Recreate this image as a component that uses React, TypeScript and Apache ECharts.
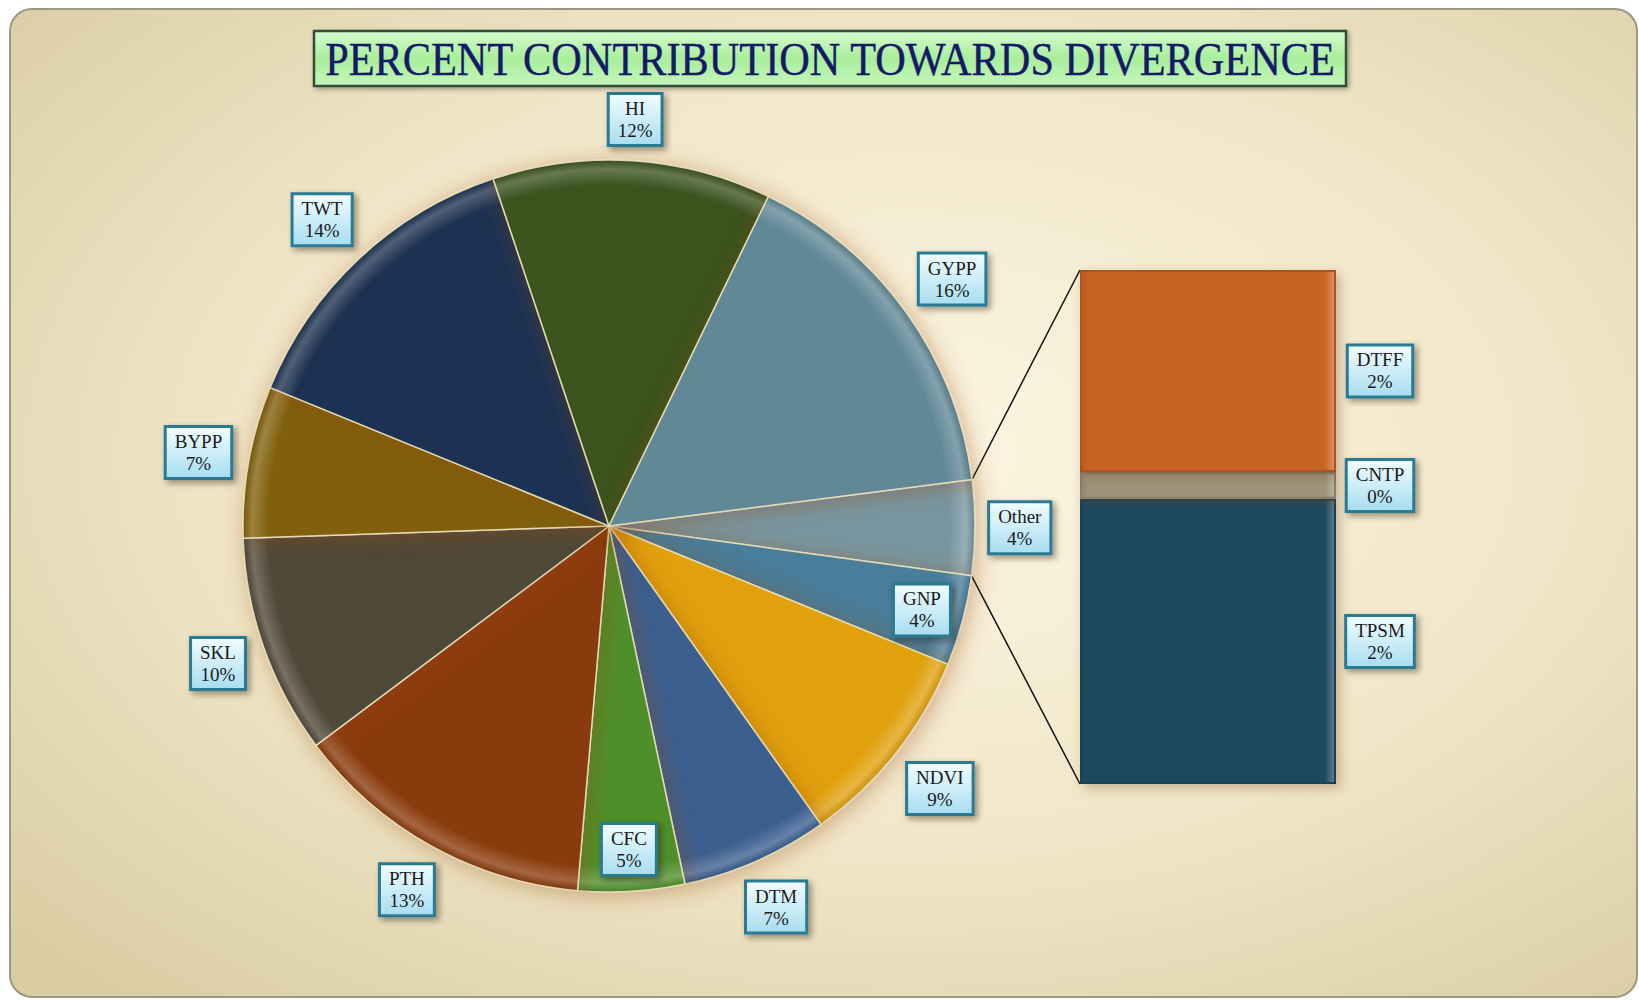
import React, { useEffect, useRef } from "react";
import * as echarts from "echarts";

// ---------- data ----------
const titleText = "PERCENT CONTRIBUTION TOWARDS DIVERGENCE";
const otherName = "Other";
// clockwise, starting after "Other"
const pieNames = ["GNP", "NDVI", "DTM", "CFC", "PTH", "SKL", "BYPP", "TWT", "HI", "GYPP"];
const pieValues = [4.0, 9.0, 6.5, 4.7, 13.4, 9.7, 6.7, 13.7, 12.3, 15.8];
// breakdown of "Other" (bottom to top in the stacked bar)
const barNames = ["TPSM", "CNTP", "DTFF"];
const barValues = [2.33, 0.22, 1.65];

// ---------- styles ----------
const pieColors: Record<string, string> = {
  Other: "#7896a0",
  GNP: "#4a7d99",
  NDVI: "#e0a10e",
  DTM: "#3b5f8f",
  CFC: "#4f8f2c",
  PTH: "#8a3b0c",
  SKL: "#4f4839",
  BYPP: "#80600a",
  TWT: "#1f3352",
  HI: "#3b531f",
  GYPP: "#608896",
};
const barColors: Record<string, string> = {
  TPSM: "#1f4a61",
  CNTP: "#9d937a",
  DTFF: "#c96424",
};
const insideLabels = ["CFC", "GNP"];

const W = 1639;
const H = 1000;
const CX = 609;
const CY = 526;
const R = 366;
const START = 7.3;
const GRID = { left: 1080, top: 270, width: 256, height: 514 };
const FONT = "'Liberation Serif', 'DejaVu Serif', serif";

const labelBox = {
  fontFamily: FONT,
  fontSize: 19,
  lineHeight: 22,
  color: "#1a1a1a",
  align: "center" as const,
  padding: [3, 8, 2, 8],
  borderColor: "#2c7a93",
  borderWidth: 3,
  backgroundColor: {
    type: "linear",
    x: 0, y: 0, x2: 0, y2: 1,
    colorStops: [
      { offset: 0, color: "#f0fcff" },
      { offset: 1, color: "#a9def0" },
    ],
  },
  shadowColor: "rgba(40,30,10,0.45)",
  shadowBlur: 6,
  shadowOffsetX: 3,
  shadowOffsetY: 3,
};

function lighten(hex: string, amt: number) {
  const n = parseInt(hex.slice(1), 16);
  const r = (n >> 16) & 255, g = (n >> 8) & 255, b = n & 255;
  const f = (c: number) => Math.round(c + (255 - c) * amt);
  return `rgb(${f(r)},${f(g)},${f(b)})`;
}
function darken(hex: string, amt: number) {
  const n = parseInt(hex.slice(1), 16);
  const r = (n >> 16) & 255, g = (n >> 8) & 255, b = n & 255;
  const f = (c: number) => Math.round(c * (1 - amt));
  return `rgb(${f(r)},${f(g)},${f(b)})`;
}

export default function App() {
  const ref = useRef<HTMLDivElement>(null);

  useEffect(() => {
    if (!ref.current) return;
    const chart = echarts.init(ref.current, undefined, { renderer: "svg" });

    const otherValue = barValues.reduce((a, b) => a + b, 0);
    const allNames = [otherName, ...pieNames];
    const allValues = [otherValue, ...pieValues];
    const total = allValues.reduce((a, b) => a + b, 0);

    const otherSpan = (otherValue / total) * 360;
    const a0 = (START * Math.PI) / 180;
    const a1 = ((START - otherSpan) * Math.PI) / 180;
    const p0 = [CX + R * Math.cos(a0), CY - R * Math.sin(a0)];
    const p1 = [CX + R * Math.cos(a1), CY - R * Math.sin(a1)];

    const pieData = allNames.map((name, i) => ({
      name,
      value: allValues[i],
      itemStyle: {
        color: {
          type: "radial",
          x: CX, y: CY, r: R,
          global: true,
          colorStops: [
            { offset: 0, color: pieColors[name] },
            { offset: 0.93, color: pieColors[name] },
            { offset: 0.975, color: lighten(pieColors[name], 0.22) },
            { offset: 1, color: darken(pieColors[name], 0.1) },
          ],
        },
      },
    }));

    const barSeries = barNames.map((name, i) => ({
      type: "bar",
      name,
      stack: "other",
      barWidth: "100%",
      xAxisIndex: 0,
      yAxisIndex: 0,
      data: [barValues[i]],
      itemStyle: {
        color: {
          type: "linear",
          x: 0, y: 0, x2: 1, y2: 0,
          colorStops: [
            { offset: 0, color: darken(barColors[name], 0.08) },
            { offset: 0.03, color: barColors[name] },
            { offset: 0.96, color: barColors[name] },
            { offset: 1, color: lighten(barColors[name], 0.3) },
          ],
        },
        borderColor: darken(barColors[name], 0.15),
        borderWidth: 2,
        shadowColor: "rgba(120,60,30,0.35)",
        shadowBlur: 12,
        shadowOffsetX: 4,
        shadowOffsetY: 4,
      },
      label: {
        show: true,
        position: "right",
        distance: 44,
        formatter: (p: any) => `${p.seriesName}\n${Math.round((p.value / total) * 100)}%`,
        ...labelBox,
      },
      z: 3,
    }));

    const option: any = {
      animation: false,
      graphic: [
        {
          type: "rect",
          z: -10,
          shape: { x: 10, y: 9, width: W - 12, height: H - 12, r: 22 },
          style: {
            fill: {
              type: "radial",
              x: 0.55, y: 0.45, r: 0.75,
              colorStops: [
                { offset: 0, color: "#fcf6e3" },
                { offset: 0.55, color: "#f0e6c7" },
                { offset: 1, color: "#d9cca2" },
              ],
            },
            stroke: "#9c9782",
            lineWidth: 2,
          },
        },
        {
          type: "rect",
          z: 10,
          shape: { x: 314, y: 31, width: 1032, height: 55 },
          style: {
            fill: {
              type: "linear",
              x: 0, y: 0, x2: 0, y2: 1,
              colorStops: [
                { offset: 0, color: "#d6fbcf" },
                { offset: 0.5, color: "#a9ee9b" },
                { offset: 1, color: "#c4f6bb" },
              ],
            },
            stroke: "#2d4f3a",
            lineWidth: 2.5,
            shadowColor: "rgba(0,0,0,0.35)",
            shadowBlur: 5,
            shadowOffsetX: 2,
            shadowOffsetY: 2,
          },
        },
        {
          type: "text",
          z: 11,
          x: 830,
          y: 60,
          scaleX: 0.92,
          style: {
            text: titleText,
            fontFamily: FONT,
            fontSize: 46,
            fill: "#151a66",
            stroke: "#151a66",
            lineWidth: 0.4,
            align: "center",
            verticalAlign: "middle",
          },
        },
        {
          type: "line",
          z: 1,
          shape: { x1: p0[0], y1: p0[1], x2: GRID.left, y2: GRID.top },
          style: { stroke: "#111", lineWidth: 1.5 },
        },
        {
          type: "line",
          z: 1,
          shape: { x1: p1[0], y1: p1[1], x2: GRID.left, y2: GRID.top + GRID.height },
          style: { stroke: "#111", lineWidth: 1.5 },
        },
      ],
      grid: { ...GRID, containLabel: false },
      xAxis: { type: "category", data: [otherName], show: false },
      yAxis: { type: "value", min: 0, max: otherValue, show: false },
      series: [
        {
          type: "pie",
          center: [CX, CY],
          radius: [0, R],
          startAngle: START,
          clockwise: true,
          avoidLabelOverlap: false,
          data: pieData,
          itemStyle: {
            borderColor: "rgba(235,225,185,0.9)",
            borderWidth: 1.5,
            shadowColor: "rgba(150,70,30,0.4)",
            shadowBlur: 22,
            shadowOffsetX: 3,
            shadowOffsetY: 3,
          },
          labelLine: { show: false },
          label: {
            show: true,
            position: "inside",
            formatter: (p: any) => `${p.name}\n${Math.round(p.percent)}%`,
            ...labelBox,
          },
          labelLayout: (params: any) => {
            const r = params.labelRect;
            const lx = r.x + r.width / 2;
            const ly = r.y + r.height / 2;
            const dx = lx - CX;
            const dy = ly - CY;
            const d = Math.hypot(dx, dy) || 1;
            const ux = dx / d;
            const uy = dy / d;
            const name = allNames[params.dataIndex];
            const extent = Math.abs(ux) * (r.width / 2) + Math.abs(uy) * (r.height / 2);
            const rr = insideLabels.includes(name) ? R - 42 : R + 12 + extent;
            return {
              x: CX + ux * rr,
              y: CY + uy * rr,
              align: "center",
              verticalAlign: "middle",
            };
          },
          z: 2,
        },
        ...barSeries,
      ],
    };

    chart.setOption(option);
    return () => chart.dispose();
  }, []);

  return (
    <div
      ref={ref}
      style={{ position: "fixed", left: 0, top: 0, width: W + "px", height: H + "px", background: "#fff" }}
    />
  );
}
